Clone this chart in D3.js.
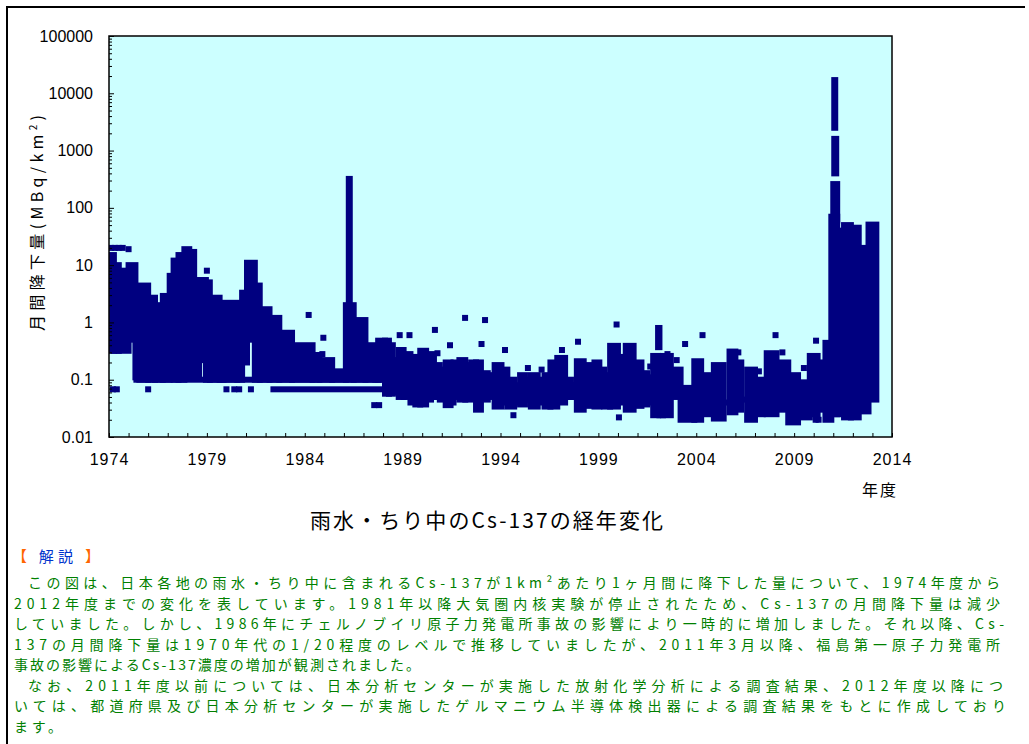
<!DOCTYPE html>
<html><head><meta charset="utf-8">
<script src="https://cdn.jsdelivr.net/npm/d3@7"></script>
<style>body{margin:0;background:#fff}svg{display:block}</style>
</head><body>
<svg id="c" width="1029" height="744"></svg>
<script>
// ---------- DATA ----------
// Dense blocks of monthly observations: start year, end year, lowest and highest value (MBq/km2)
const bandStart = [1974.00,1974.25,1974.50,1975.00,1975.35,1975.55,1976.00,1976.35,1976.75,1977.10,1977.30,1977.55,1977.85,1978.10,1978.35,1978.60,1978.95,1979.15,1979.65,1979.85,1980.55,1980.80,1981.05,1981.45,1981.70,1982.20,1982.70,1983.35,1984.40,1984.75,1985.40,1986.10,1986.25,1986.50,1987.10,1987.60,1987.75,1975.40,1982.40,
  1988.10,1988.30,1988.50,1988.80,1989.05,1989.40,1989.65,1989.90,1990.20,1990.45,1990.60,1990.90,1991.20,1991.45,1991.60,1991.90,1992.20,1992.50,1992.75,1993.00,1993.35,
  1993.70,1994.05,1994.35,1994.70,1995.00,1995.25,1995.55,1995.90,1996.25,1996.55,1996.90,1997.30,1997.60,1997.90,1998.25,1998.60,1998.80,1999.05,1999.30,1999.60,2000.00,2000.40,2000.80,2001.20,2001.50,2001.80,2002.05,2002.12,2002.30,2002.70,2003.20,
  2003.90,2004.25,2004.90,2005.70,2006.00,2006.60,2007.00,2007.60,2008.10,2008.70,2009.20,2009.80,2010.20,2010.60,
  2010.90,2011.20,2011.55,2011.90,2012.30,2012.55,2012.80,2011.05,2011.05,2011.00];
const bandEnd   = [1974.25,1974.50,1975.00,1975.35,1975.55,1976.00,1976.35,1976.75,1977.10,1977.30,1977.55,1977.85,1978.10,1978.35,1978.60,1978.95,1979.15,1979.65,1979.85,1980.55,1980.80,1981.05,1981.45,1981.70,1982.20,1982.70,1983.35,1984.40,1984.75,1985.40,1986.10,1986.50,1986.30,1987.10,1987.60,1987.75,1988.10,1988.10,1988.10,
  1988.30,1988.50,1988.80,1989.05,1989.40,1989.65,1989.90,1990.20,1990.45,1990.60,1990.90,1991.20,1991.45,1991.60,1991.90,1992.20,1992.50,1992.75,1993.00,1993.35,1993.70,
  1994.05,1994.35,1994.70,1995.00,1995.25,1995.55,1995.90,1996.25,1996.55,1996.90,1997.30,1997.60,1997.90,1998.25,1998.60,1998.80,1999.05,1999.30,1999.60,2000.00,2000.40,2000.80,2001.20,2001.50,2001.80,2002.05,2002.12,2002.30,2002.70,2003.20,2003.90,
  2004.25,2004.60,2005.40,2006.00,2006.30,2007.00,2007.40,2008.10,2008.70,2009.20,2009.80,2010.20,2010.60,2010.90,
  2011.20,2011.55,2011.90,2012.30,2012.55,2012.80,2013.20,2011.10,2011.15,2011.20];
const bandLow   = [0.32,0.32,0.32,0.5,0.11,0.1,0.1,0.1,0.1,0.12,0.1,0.1,0.28,0.11,0.11,0.22,0.1,0.1,0.1,0.1,0.1,0.2,0.5,0.1,0.1,0.1,0.1,0.1,0.1,0.1,0.1,0.1,2.0,0.1,0.1,0.1,0.1,0.1,0.068,
  0.057,0.057,0.06,0.05,0.05,0.04,0.037,0.037,0.045,0.05,0.05,0.045,0.036,0.04,0.05,0.045,0.045,0.05,0.03,0.045,0.05,
  0.034,0.04,0.034,0.04,0.037,0.045,0.034,0.04,0.034,0.034,0.04,0.05,0.05,0.03,0.035,0.05,0.034,0.04,0.034,0.034,0.04,0.03,0.035,0.037,0.04,0.024,0.37,0.024,0.024,0.05,0.02,
  0.02,0.025,0.021,0.027,0.03,0.02,0.025,0.025,0.03,0.018,0.022,0.025,0.03,0.02,
  0.025,0.025,0.022,0.022,0.03,0.028,0.045,2500,400,60];
const bandHigh  = [15,10,8,10,2.2,4.4,2.7,2.0,2.9,6.5,12,15,19,17,5,5.5,5,2.7,1.7,2.2,0.74,3.3,11,4.4,1.7,1.2,0.66,0.4,0.27,0.22,0.14,2.0,320,1.1,0.4,0.31,0.48,0.1,0.068,
  0.48,0.4,0.22,0.33,0.28,0.2,0.25,0.32,0.2,0.28,0.18,0.15,0.2,0.16,0.2,0.22,0.18,0.2,0.2,0.13,0.12,
  0.18,0.15,0.1,0.08,0.12,0.1,0.12,0.1,0.12,0.2,0.24,0.1,0.08,0.21,0.18,0.09,0.2,0.15,0.12,0.39,0.25,0.39,0.2,0.13,0.11,0.26,0.8,0.2,0.26,0.15,0.072,
  0.21,0.12,0.18,0.31,0.2,0.15,0.1,0.29,0.2,0.12,0.09,0.26,0.2,0.44,
  70,40,50,45,20,12,51,17000,1600,260];

// Isolated observations: year and value (MBq/km2)
const pointYear  = [1974.10,1974.30,1974.50,1974.70,1975.00,1974.20,1974.40,1976.00,1979.00,1980.00,1980.40,1980.65,1981.25,1984.20,1984.95,1984.90,1987.55,1987.80,1988.85,1989.35,1990.65,1990.78,1991.42,1992.19,1993.03,1993.21,1994.23,1994.66,1997.14,1997.96,1999.93,2000.05,2002.53,2003.43,2004.32,2008.05,2010.12,2010.10,2010.25,2004.75,2005.55,2006.45,2007.50,1995.40,1996.10,1998.70,2001.65,2003.00,2006.15,2007.20,2008.40,2009.50];
const pointValue = [20,20,20,20,19,0.068,0.068,0.068,8,0.068,0.068,0.068,0.068,1.35,0.54,0.28,0.036,0.036,0.6,0.6,0.74,0.29,0.4,1.2,0.42,1.1,0.33,0.024,0.33,0.46,0.92,0.022,0.28,0.42,0.6,0.6,0.48,0.02,0.02,0.05,0.04,0.045,0.05,0.16,0.15,0.13,0.17,0.22,0.3,0.14,0.3,0.16];

const yTicks = [0.01,0.1,1,10,100,1000,10000,100000];
const yTickLabels = ["0.01","0.1","1","10","100","1000","10000","100000"];
const xTicks = [1974,1979,1984,1989,1994,1999,2004,2009,2014];
const xTickLabels = ["1974","1979","1984","1989","1994","1999","2004","2009","2014"];

const titleText = "雨水・ちり中のCs-137の経年変化";
const yTitleText = "月間降下量(MBq/km";
const xTitleText = "年度";
const noteHeading = ["【 ", "解説", " 】"];
const noteLines = [
  "この図は、日本各地の雨水・ちり中に含まれるCs-137が1km²あたり1ヶ月間に降下した量について、1974年度から",
  "2012年度までの変化を表しています。1981年以降大気圏内核実験が停止されたため、Cs-137の月間降下量は減少",
  "していました。しかし、1986年にチェルノブイリ原子力発電所事故の影響により一時的に増加しました。それ以降、Cs-",
  "137の月間降下量は1970年代の1/20程度のレベルで推移していましたが、2011年3月以降、福島第一原子力発電所",
  "事故の影響によるCs-137濃度の増加が観測されました。",
  "なお、2011年度以前については、日本分析センターが実施した放射化学分析による調査結果、2012年度以降につ",
  "いては、都道府県及び日本分析センターが実施したゲルマニウム半導体検出器による調査結果をもとに作成しており",
  "ます。"
];

// ---------- DRAW ----------
const svg = d3.select('#c');
const P = {left:109, right:892, top:36, bottom:437};
const x = d3.scaleLinear().domain([1974,2014]).range([P.left,P.right]);
const y = d3.scaleLog().domain([0.01,100000]).range([P.bottom,P.top]);
const M = 6; // marker size

// outer frame (top & left)
svg.append('line').attr('x1',6).attr('x2',1025).attr('y1',7).attr('y2',7).attr('stroke','#000').attr('stroke-width',2);
svg.append('line').attr('x1',7).attr('x2',7).attr('y1',6).attr('y2',744).attr('stroke','#000').attr('stroke-width',2);

svg.append('rect').attr('x',P.left).attr('y',P.top).attr('width',P.right-P.left).attr('height',P.bottom-P.top).attr('fill','#ccffff');

svg.append('clipPath').attr('id','clip').append('rect')
  .attr('x',P.left).attr('y',P.top).attr('width',P.right-P.left).attr('height',P.bottom-P.top);
const g = svg.append('g').attr('clip-path','url(#clip)');

const bands = bandStart.map((s,i)=>({s, e:bandEnd[i], lo:bandLow[i], hi:bandHigh[i]}));
g.selectAll('rect.band').data(bands).join('rect').attr('class','band')
  .attr('x',d=>x(d.s)-M/2).attr('width',d=>x(d.e)-x(d.s)+M)
  .attr('y',d=>y(d.hi)-M/2).attr('height',d=>y(d.lo)-y(d.hi)+M)
  .attr('fill','#000080');

const pts = pointYear.map((t,i)=>({t, v:pointValue[i]}));
g.selectAll('rect.pt').data(pts).join('rect').attr('class','pt')
  .attr('x',d=>x(d.t)-M/2).attr('y',d=>y(d.v)-M/2).attr('width',M).attr('height',M)
  .attr('fill','#000080');

// axes
const minor = [];
for (let e=-2;e<5;e++) for (let m=2;m<10;m++) minor.push(m*Math.pow(10,e));
const yMinor = svg.append('g').attr('transform',`translate(${P.left},0)`)
  .call(d3.axisLeft(y).tickValues(minor).tickSize(-3).tickFormat(''));
yMinor.select('.domain').remove();
yMinor.selectAll('line').attr('stroke','#000');

const yAxis = svg.append('g').attr('transform',`translate(${P.left},0)`)
  .call(d3.axisLeft(y).tickValues(yTicks).tickSize(-5).tickPadding(16)
    .tickFormat((d,i)=>yTickLabels[i]));
yAxis.select('.domain').remove();
yAxis.selectAll('line').attr('stroke','#000');
yAxis.selectAll('text').attr('font-family','Liberation Sans, Arial, sans-serif').attr('font-size',16).attr('fill','#000');

const years = d3.range(1974,2015);
const xMinor = svg.append('g').attr('transform',`translate(0,${P.bottom})`)
  .call(d3.axisBottom(x).tickValues(years).tickSize(-4).tickFormat(''));
xMinor.select('.domain').remove();
xMinor.selectAll('line').attr('stroke','#000');

const xAxis = svg.append('g').attr('transform',`translate(0,${P.bottom})`)
  .call(d3.axisBottom(x).tickValues(xTicks).tickSize(0).tickPadding(17)
    .tickFormat((d,i)=>xTickLabels[i]));
xAxis.select('.domain').remove();
xAxis.selectAll('text').attr('font-family','Liberation Sans, Arial, sans-serif').attr('font-size',16)
  .attr('letter-spacing',1).attr('fill','#000');

// frame
svg.append('rect').attr('x',P.left).attr('y',P.top).attr('width',P.right-P.left).attr('height',P.bottom-P.top)
  .attr('fill','none').attr('stroke','#000').attr('stroke-width',1.5);

const JP = "'Noto Sans CJK JP','Noto Sans',sans-serif";
// y title
const yt = svg.append('text').attr('transform','translate(43,331) rotate(-90)')
  .attr('font-family',JP).attr('font-size',16).attr('fill','#000')
  .attr('textLength',216).attr('lengthAdjust','spacing');
yt.append('tspan').text(yTitleText);
yt.append('tspan').attr('dy',-6).attr('font-size',10).text('2');
yt.append('tspan').attr('dy',6).text(')');

// x title
svg.append('text').attr('x',880).attr('y',496).attr('text-anchor','middle')
  .attr('font-family',JP).attr('font-size',16).attr('letter-spacing',2).attr('fill','#000').text(xTitleText);

// chart title
svg.append('text').attr('x',310).attr('y',528)
  .attr('font-family',JP).attr('font-size',21).attr('fill','#000')
  .attr('textLength',353).attr('lengthAdjust','spacing').text(titleText);

// note heading
const nh = svg.append('text').attr('x',12).attr('y',562).attr('font-family',JP).attr('font-size',15)
  .attr('textLength',88).attr('lengthAdjust','spacing');
nh.append('tspan').attr('fill','#ff6600').text(noteHeading[0]);
nh.append('tspan').attr('fill','#0033cc').text(noteHeading[1]);
nh.append('tspan').attr('fill','#ff6600').text(noteHeading[2]);

const lineX0 = [28,14,14,14,14,28,14,14];
const lineX1 = [1000,1000,1004,1000,420,1003,1006,62];
noteLines.forEach((t,i)=>{
  svg.append('text').attr('x',lineX0[i]).attr('y',588 + i*20.5)
    .attr('font-family',JP).attr('font-size',14).attr('fill','#008000').text(t)
    .attr('textLength',lineX1[i]-lineX0[i]).attr('lengthAdjust','spacing');
});
</script>
</body></html>
